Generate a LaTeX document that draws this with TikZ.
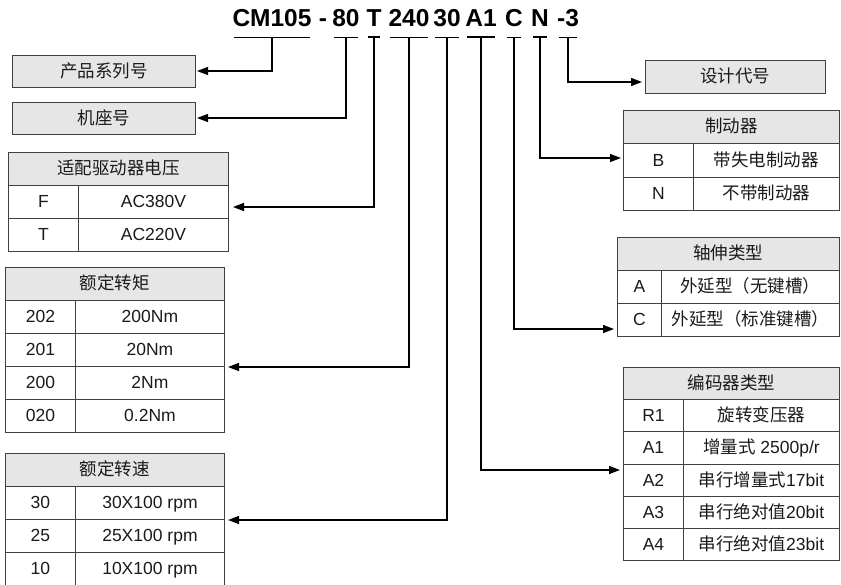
\documentclass[tikz,border=0pt]{standalone}
\usepackage{fontspec}
\setmainfont{Liberation Sans}
\newfontfamily\cjk{Noto Sans CJK SC}
\usetikzlibrary{arrows.meta}
\definecolor{bc}{HTML}{404040}
\definecolor{hg}{HTML}{E6E6E6}
\definecolor{tc}{HTML}{1A1A1A}
\begin{document}
\begin{tikzpicture}[x=1pt,y=-1pt,
 cell/.style={draw=bc,line width=0.9pt,anchor=north west,inner sep=0pt,text height=15pt,text depth=3pt,font=\fontsize{17.5}{20}\selectfont,text=tc},
 hdr/.style={cell,fill=hg},
 seg/.style={anchor=base,inner sep=0pt,font=\fontsize{24.5}{26}\selectfont\bfseries},
 uline/.style={line width=1.8pt},
 conn/.style={line width=1.3pt,-{Triangle[length=11pt,width=8pt]}},
]
\useasboundingbox (0,0) rectangle (841,584);
% title segments
\node[seg] (sCM) at (272,26) {CM105};
\node[seg] (sD) at (323,26) {-};
\node[seg] (s80) at (346,26) {80};
\node[seg] (sT) at (374,26) {T};
\node[seg] (s240) at (409,26) {240};
\node[seg] (s30) at (447,26) {30};
\node[seg] (sA1) at (481,26) {A1};
\node[seg] (sC) at (514,26) {C};
\node[seg] (sN) at (540,26) {N};
\node[seg] (s3) at (568,26) {-3};
\foreach \s in {sCM,s80,sT,s240,s30,sA1,sC,sN,s3}{
  \draw[uline] ([yshift=-11pt,xshift=2pt]\s.south west) -- ([yshift=-11pt,xshift=-2pt]\s.south east);
}
% left boxes
\node[hdr,minimum width=183pt,minimum height=32pt] (pb) at (12,55) {\cjk 产品系列号};
\node[hdr,minimum width=183pt,minimum height=32pt] (jb) at (12,102) {\cjk 机座号};
% voltage table
\node[hdr,minimum width=220pt,minimum height=33pt] (vh) at (8,152) {\cjk 适配驱动器电压};
\node[cell,minimum width=70pt,minimum height=33pt] (v1a) at (8,185) {F};
\node[cell,minimum width=150pt,minimum height=33pt] (v1b) at (78,185) {AC380V};
\node[cell,minimum width=70pt,minimum height=33pt] (v2a) at (8,218) {T};
\node[cell,minimum width=150pt,minimum height=33pt] (v2b) at (78,218) {AC220V};
% torque table
\node[hdr,minimum width=219pt,minimum height=33pt] (th) at (5,267) {\cjk 额定转矩};
\node[cell,minimum width=70pt,minimum height=33pt] (t1a) at (5,300) {202};
\node[cell,minimum width=149pt,minimum height=33pt] (t1b) at (75,300) {200Nm};
\node[cell,minimum width=70pt,minimum height=33pt] (t2a) at (5,333) {201};
\node[cell,minimum width=149pt,minimum height=33pt] (t2b) at (75,333) {20Nm};
\node[cell,minimum width=70pt,minimum height=33pt] (t3a) at (5,366) {200};
\node[cell,minimum width=149pt,minimum height=33pt] (t3b) at (75,366) {2Nm};
\node[cell,minimum width=70pt,minimum height=33pt] (t4a) at (5,399) {020};
\node[cell,minimum width=149pt,minimum height=33pt] (t4b) at (75,399) {0.2Nm};
% speed table
\node[hdr,minimum width=219pt,minimum height=33pt] (rh) at (5,453) {\cjk 额定转速};
\node[cell,minimum width=70pt,minimum height=33pt] (r1a) at (5,486) {30};
\node[cell,minimum width=149pt,minimum height=33pt] (r1b) at (75,486) {30X100 rpm};
\node[cell,minimum width=70pt,minimum height=33pt] (r2a) at (5,519) {25};
\node[cell,minimum width=149pt,minimum height=33pt] (r2b) at (75,519) {25X100 rpm};
\node[cell,minimum width=70pt,minimum height=33pt] (r3a) at (5,552) {10};
\node[cell,minimum width=149pt,minimum height=33pt] (r3b) at (75,552) {10X100 rpm};
% design code box
\node[hdr,minimum width=180pt,minimum height=33pt] (db) at (645,60) {\cjk 设计代号};
% brake table
\node[hdr,minimum width=216pt,minimum height=33pt] (bh) at (623,110) {\cjk 制动器};
\node[cell,minimum width=70pt,minimum height=33.5pt] (b1a) at (623,143) {B};
\node[cell,minimum width=146pt,minimum height=33.5pt] (b1b) at (693,143) {\cjk 带失电制动器};
\node[cell,minimum width=70pt,minimum height=33.5pt] (b2a) at (623,176.5) {N};
\node[cell,minimum width=146pt,minimum height=33.5pt] (b2b) at (693,176.5) {\cjk 不带制动器};
% shaft table
\node[hdr,minimum width=222pt,minimum height=33pt] (xh) at (617,237) {\cjk 轴伸类型};
\node[cell,minimum width=44pt,minimum height=33pt] (x1a) at (617,270) {A};
\node[cell,minimum width=178pt,minimum height=33pt] (x1b) at (661,270) {\cjk 外延型（无键槽）};
\node[cell,minimum width=44pt,minimum height=33pt] (x2a) at (617,303) {C};
\node[cell,minimum width=178pt,minimum height=33pt] (x2b) at (661,303) {\cjk 外延型（标准键槽）};
% encoder table
\node[hdr,minimum width=216pt,minimum height=32.2pt] (eh) at (623,367) {\cjk 编码器类型};
\node[cell,minimum width=60pt,minimum height=32.2pt] (e1a) at (623,399.2) {R1};
\node[cell,minimum width=156pt,minimum height=32.2pt] (e1b) at (683,399.2) {\cjk 旋转变压器};
\node[cell,minimum width=60pt,minimum height=32.2pt] (e2a) at (623,431.4) {A1};
\node[cell,minimum width=156pt,minimum height=32.2pt] (e2b) at (683,431.4) {{\cjk 增量式} 2500p/r};
\node[cell,minimum width=60pt,minimum height=32.2pt] (e3a) at (623,463.6) {A2};
\node[cell,minimum width=156pt,minimum height=32.2pt] (e3b) at (683,463.6) {{\cjk 串行增量式}17bit};
\node[cell,minimum width=60pt,minimum height=32.2pt] (e4a) at (623,495.8) {A3};
\node[cell,minimum width=156pt,minimum height=32.2pt] (e4b) at (683,495.8) {{\cjk 串行绝对值}20bit};
\node[cell,minimum width=60pt,minimum height=32.2pt] (e5a) at (623,528) {A4};
\node[cell,minimum width=156pt,minimum height=32.2pt] (e5b) at (683,528) {{\cjk 串行绝对值}23bit};
% arrow tips
\coordinate (aCM) at (197,71);
\coordinate (a80) at (197,118);
\coordinate (aT) at (233,207);
\coordinate (a240) at (228,367);
\coordinate (a30) at (228,520);
\coordinate (a3) at (642,82);
\coordinate (aN) at (621,158);
\coordinate (aC) at (614,329);
\coordinate (aA1) at (620,470);
% connectors
\draw[conn] ([yshift=-11pt]sCM.south) |- (aCM);
\draw[conn] ([yshift=-11pt]s80.south) |- (a80);
\draw[conn] ([yshift=-11pt]sT.south) |- (aT);
\draw[conn] ([yshift=-11pt]s240.south) |- (a240);
\draw[conn] ([yshift=-11pt]s30.south) |- (a30);
\draw[conn] ([yshift=-11pt]s3.south) |- (a3);
\draw[conn] ([yshift=-11pt]sN.south) |- (aN);
\draw[conn] ([yshift=-11pt]sC.south) |- (aC);
\draw[conn] ([yshift=-11pt]sA1.south) |- (aA1);
\end{tikzpicture}
\end{document}
